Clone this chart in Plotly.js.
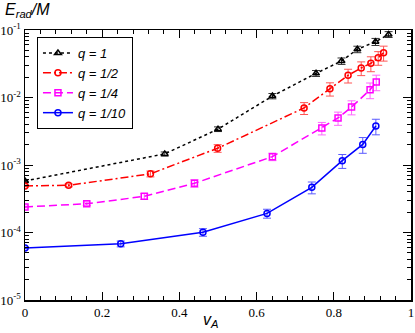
<!DOCTYPE html>
<html>
<head>
<meta charset="utf-8">
<script src="https://cdn.plot.ly/plotly-3.0.1.min.js"></script>
<style>
  html, body { margin: 0; padding: 0; background: #fff; }
  #chart { width: 415px; height: 333px; }
</style>
</head>
<body>
<div id="chart"></div>
<script>
// q = 1
var vA1 = [0, 0.362, 0.50, 0.641, 0.754, 0.820, 0.861, 0.908, 0.942];
var E1 = [5.8e-4, 1.46e-3, 3.4e-3, 1.05e-2, 2.28e-2, 3.47e-2, 5.18e-2, 6.7e-2, 8.6e-2];
var err1 = [2.3e-5, 1.0e-4, 2.7e-4, 9.5e-4, 2.3e-3, 3.8e-3, 5.7e-3, 8.0e-3, 8.6e-3];

// q = 1/2
var vA2 = [0, 0.113, 0.325, 0.499, 0.723, 0.790, 0.837, 0.871, 0.896, 0.915, 0.929];
var E2 = [4.9e-4, 5.0e-4, 7.4e-4, 1.77e-3, 7.0e-3, 1.35e-2, 2.13e-2, 2.74e-2, 3.21e-2, 3.89e-2, 4.61e-2];
var err2 = [1.5e-5, 2.5e-5, 7.4e-5, 2.3e-4, 1.4e-3, 3.0e-3, 4.9e-3, 6.3e-3, 8.0e-3, 8.9e-3, 1.15e-2];

// q = 1/4
var vA4 = [0, 0.160, 0.309, 0.439, 0.641, 0.769, 0.811, 0.846, 0.894, 0.910];
var E4 = [2.39e-4, 2.67e-4, 3.43e-4, 5.36e-4, 1.33e-3, 3.53e-3, 4.97e-3, 7.23e-3, 1.30e-2, 1.70e-2];
var err4 = [7e-6, 1.6e-5, 3.4e-5, 7.0e-5, 1.7e-4, 7.4e-4, 1.1e-3, 1.7e-3, 3.4e-3, 4.4e-3];

// q = 1/10
var vA10 = [0, 0.248, 0.461, 0.627, 0.743, 0.822, 0.875, 0.909];
var E10 = [5.9e-5, 6.8e-5, 1.01e-4, 1.92e-4, 4.67e-4, 1.16e-3, 2.02e-3, 3.78e-3];
var err10 = [1.8e-6, 6.8e-6, 1.3e-5, 2.9e-5, 9.3e-5, 2.7e-4, 5.3e-4, 9.8e-4];

var names = ['q = 1', 'q = 1/2', 'q = 1/4', 'q = 1/10'];

// y tick labels
var yTickVals = [1e-5, 1e-4, 1e-3, 1e-2, 1e-1];
var yTickText = ['10<sup>-5</sup>', '10<sup>-4</sup>', '10<sup>-3</sup>', '10<sup>-2</sup>', '10<sup>-1</sup>'];

var trace1 = {
  x: vA1, y: E1, name: names[0], type: 'scatter', mode: 'lines+markers',
  line: { color: 'black', width: 1.5, dash: 'dot' },
  marker: { symbol: 'triangle-up-open', size: 6, color: 'black', line: { width: 1.5 } },
  error_y: { type: 'data', array: err1, color: '#333333', thickness: 1, width: 4 }
};

var trace2 = {
  x: vA2, y: E2, name: names[1], type: 'scatter', mode: 'lines+markers',
  line: { color: '#ff0000', width: 1.5, dash: '8px,3px,2px,3px' },
  marker: { symbol: 'circle-open', size: 6, color: '#ff0000', line: { width: 1.5 } },
  error_y: { type: 'data', array: err2, color: '#ff5555', thickness: 1, width: 4 }
};

var trace3 = {
  x: vA4, y: E4, name: names[2], type: 'scatter', mode: 'lines+markers',
  line: { color: '#ff00ff', width: 1.5, dash: '8px,4px' },
  marker: { symbol: 'square-open', size: 6, color: '#ff00ff', line: { width: 1.5 } },
  error_y: { type: 'data', array: err4, color: '#ff66ff', thickness: 1, width: 4 }
};

var trace4 = {
  x: vA10, y: E10, name: names[3], type: 'scatter', mode: 'lines+markers',
  line: { color: '#0000ff', width: 1.5 },
  marker: { symbol: 'circle-open', size: 6, color: '#0000ff', line: { width: 1.5 } },
  error_y: { type: 'data', array: err10, color: '#5a5aff', thickness: 1, width: 4 }
};

var tickFont = { family: 'Liberation Serif, Times New Roman, serif', size: 13, color: 'black' };

var layout = {
  width: 415,
  height: 333,
  margin: { l: 25, r: 4, t: 30, b: 33 },
  paper_bgcolor: 'white',
  plot_bgcolor: 'white',
  showlegend: true,
  legend: {
    x: 0.031, y: 0.974, xanchor: 'left', yanchor: 'top',
    bordercolor: 'black', borderwidth: 1, bgcolor: 'white',
    font: { family: 'Liberation Sans, Arial, sans-serif', size: 13, color: 'black', style: 'italic' },
    itemwidth: 30, tracegroupgap: 0
  },
  xaxis: {
    range: [0, 1], dtick: 0.2, tick0: 0,
    showgrid: false, zeroline: false,
    showline: true, linecolor: 'black', linewidth: 1.5, mirror: 'allticks',
    ticks: 'inside', ticklen: 8, tickwidth: 1, tickcolor: 'black',
    minor: { dtick: 0.04, ticks: 'inside', ticklen: 4, tickcolor: 'black' },
    tickfont: tickFont
  },
  yaxis: {
    type: 'log', range: [-5, -1],
    tickmode: 'array', tickvals: yTickVals, ticktext: yTickText,
    showgrid: false, zeroline: false,
    showline: true, linecolor: 'black', linewidth: 1.5, mirror: 'allticks',
    ticks: 'inside', ticklen: 8, tickwidth: 1, tickcolor: 'black',
    minor: { dtick: 'D1', ticks: 'inside', ticklen: 4, tickcolor: 'black' },
    ticklabelstandoff: 0,
    tickfont: tickFont
  },
  annotations: [
    {
      text: '<i>E</i><sub><i>rad</i></sub><i>/M</i>',
      xref: 'paper', yref: 'paper', x: -0.058, y: 1.03, xanchor: 'left', yanchor: 'bottom',
      showarrow: false,
      font: { family: 'Liberation Sans, Arial, sans-serif', size: 16, color: 'black' }
    },
    {
      text: '<i>v</i><sub><i>A</i></sub>',
      xref: 'paper', yref: 'paper', x: 0.48, y: -0.118, xanchor: 'center', yanchor: 'bottom',
      showarrow: false,
      font: { family: 'Liberation Sans, Arial, sans-serif', size: 16, color: 'black' }
    }
  ]
};

Plotly.newPlot('chart', [trace1, trace2, trace3, trace4], layout, { displayModeBar: false, staticPlot: true });
</script>
</body>
</html>
